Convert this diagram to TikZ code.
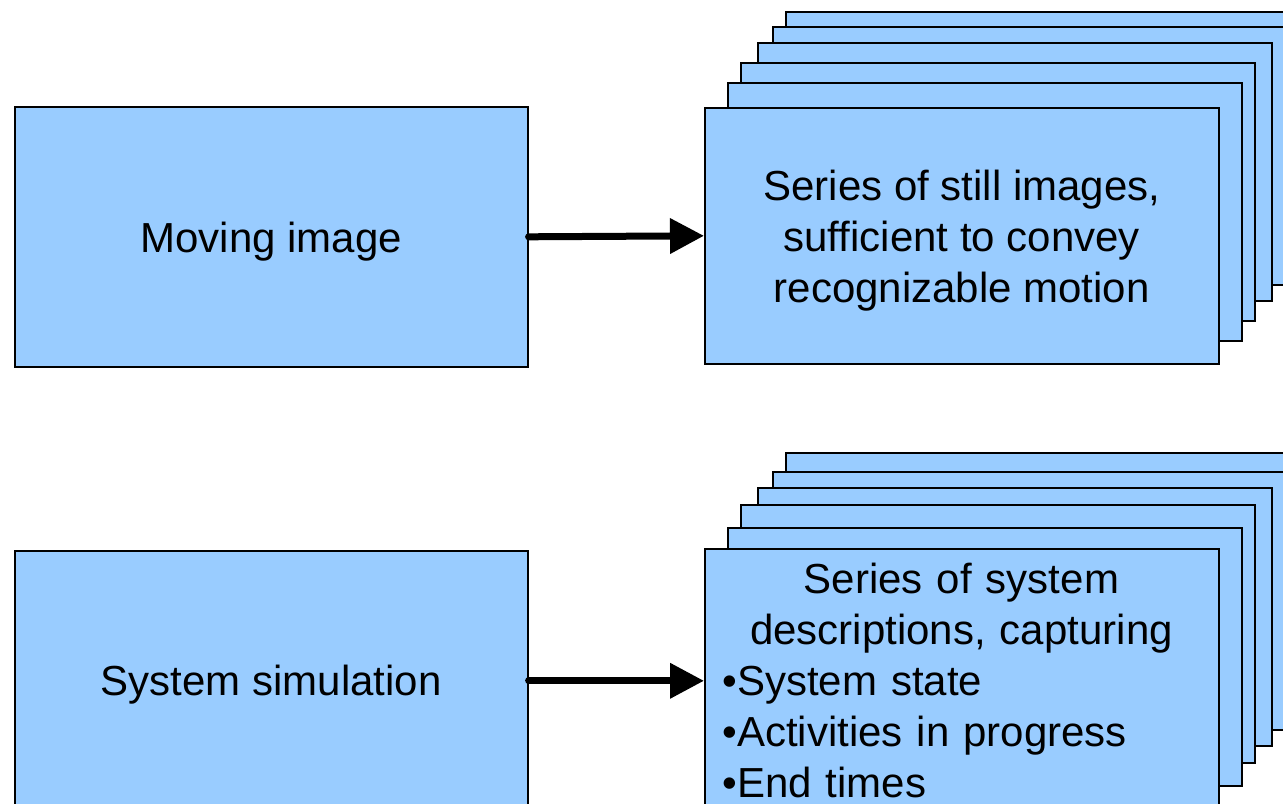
\documentclass[tikz,border=0pt]{standalone}
\usepackage{fontspec}
\setmainfont{Liberation Sans}
\usetikzlibrary{arrows.meta}
\definecolor{cardblue}{RGB}{153,204,255}
\begin{document}
\begin{tikzpicture}[x=0.75pt,y=-0.75pt,
  card/.style={draw=black, fill=cardblue, line width=1.2pt,
    minimum width=385.5pt, minimum height=193.5pt, inner sep=0pt,
    anchor=north west},
  frontcard/.style={card, minimum height=192pt},
  sidebox/.style={card, minimum width=384.75pt, minimum height=195pt},
  boxtext/.style={inner sep=0pt, align=center,
    font=\fontsize{31.5}{38.25}\selectfont},
  listtext/.style={inner sep=0pt, text width=358.5pt, align=left,
    font=\fontsize{31.5}{38.25}\selectfont},
  flow/.style={line width=5.25pt, line cap=round,
    -{Triangle[length=25.5pt,width=25.5pt]}}]
\useasboundingbox (0,0) rectangle (1283,804);
\clip (0,0) rectangle (1283,804);
\fill[white] (0,0) rectangle (1283,804);

% left boxes
\node[sidebox] (moving) at (14,106) {};
\node[boxtext] (movingtext) at ([yshift=-3.5pt]moving.center) {Moving image};
\node[sidebox] (sim) at (14,550) {};
\node[boxtext] (simtext) at ([yshift=-3pt]sim.center) {System simulation};

% top stack
\node[card] (a1) at (785,11) {};
\node[card] (a2) at (772,26) {};
\node[card] (a3) at (757,42) {};
\node[card] (a4) at (740,62) {};
\node[card] (a5) at (727,82) {};
\node[frontcard] (a6) at (704,107) {};
\node[boxtext] (a6text) at ([yshift=-3.75pt]a6.center) {Series of still images,\\sufficient to convey\\recognizable motion};

% bottom stack
\node[card] (b1) at (785,452) {};
\node[card] (b2) at (772,471) {};
\node[card] (b3) at (757,487) {};
\node[card] (b4) at (740,504) {};
\node[card] (b5) at (727,527) {};
\node[card] (b6) at (704,548) {};
\node[listtext] (b6text) at (961.5,680.5) {{\centering Series of system\\descriptions, capturing\par}•System state\\•Activities in progress\\•End times};

% connectors
\draw[flow] (moving.east) -- (a6.west);
\draw[flow] (sim.east) -- (b6.west |- sim.east);
\end{tikzpicture}
\end{document}
